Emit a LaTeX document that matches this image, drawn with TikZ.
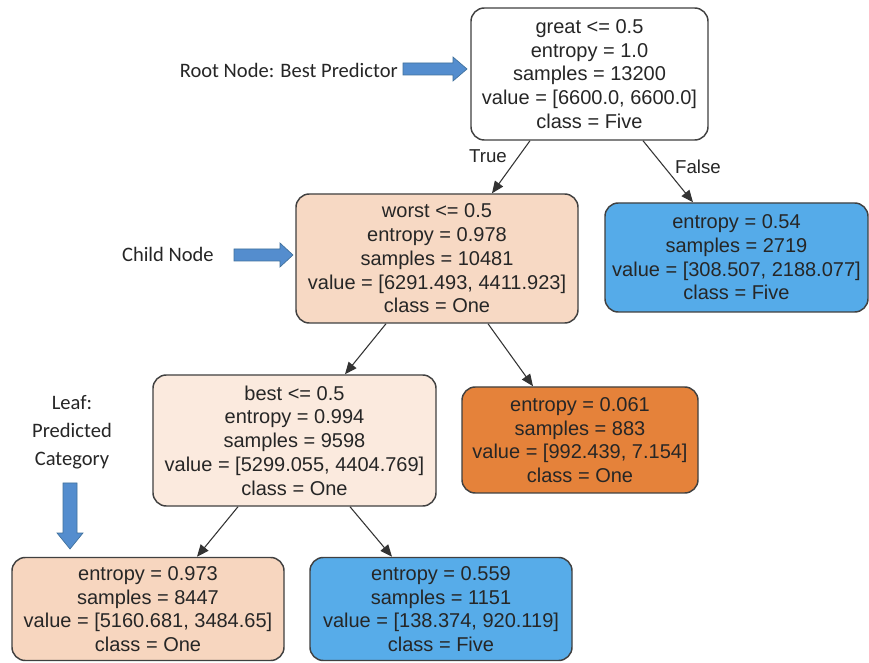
\documentclass[tikz,border=0pt]{standalone}
\usepackage{fontspec}
\newfontfamily\treefont{Liberation Sans}
\newfontfamily\notefont{Carlito}
\usetikzlibrary{arrows.meta, positioning, calc}
\newlength\px
\setlength\px{0.75pt}
\definecolor{peachA}{RGB}{247,217,196}
\definecolor{peachB}{RGB}{251,234,222}
\definecolor{peachC}{RGB}{247,214,191}
\definecolor{orangeA}{RGB}{229,130,58}
\definecolor{blueA}{RGB}{85,171,233}
\definecolor{blueB}{RGB}{87,172,233}
\definecolor{pointer}{RGB}{84,141,206}
\definecolor{pointerline}{RGB}{65,113,156}
\tikzset{%
	tnode/.style={draw=black!75, line width=1.1pt, rounded corners=10pt, align=center,
		inner sep=0pt, text=black!85, font=\treefont\fontsize{15}{17.8}\selectfont},
	sz/.style 2 args={minimum width=#1\px, minimum height=#2\px},
	edge/.style={-{Triangle[length=9pt, width=7.5pt]}, line width=0.8pt, black!80},
	branch/.style={text=black!85, font=\treefont\fontsize{14}{16}\selectfont},
	note/.style={text=black!85, align=center, inner sep=0pt,
		font=\notefont\fontsize{15.4}{21}\selectfont},
	pointer/.style={fill=pointer, draw=pointerline, line width=0.5pt}
}
\begin{document}
\begin{tikzpicture}[x=0.75pt, y=-0.75pt]
	\useasboundingbox [fill=white] (0,0) rectangle (869,663);

	% tree
	\node [tnode, sz={237}{132}, fill=white] (root) at (589.5,74)
		{great <= 0.5\\entropy = 1.0\\samples = 13200\\value = [6600.0, 6600.0]\\class = Five};
	\node [tnode, sz={282}{129}, fill=peachA] (worst) at (437,258.5)
		{worst <= 0.5\\entropy = 0.978\\samples = 10481\\value = [6291.493, 4411.923]\\class = One};
	\node [tnode, sz={263}{109}, fill=blueA] (five1) at (736.5,257.5)
		{entropy = 0.54\\samples = 2719\\value = [308.507, 2188.077]\\class = Five};
	\node [tnode, sz={283}{131}, fill=peachB] (best) at (294.5,440.5)
		{best <= 0.5\\entropy = 0.994\\samples = 9598\\value = [5299.055, 4404.769]\\class = One};
	\node [tnode, sz={236}{106}, fill=orangeA] (one1) at (580,440)
		{entropy = 0.061\\samples = 883\\value = [992.439, 7.154]\\class = One};
	\node [tnode, sz={272}{103}, fill=peachC] (one2) at (148,609)
		{entropy = 0.973\\samples = 8447\\value = [5160.681, 3484.65]\\class = One};
	\node [tnode, sz={262}{103}, fill=blueB] (five2) at (441,609)
		{entropy = 0.559\\samples = 1151\\value = [138.374, 920.119]\\class = Five};

	\draw [edge] ($(root.south)+(-59.5,0)$) -- ($(worst.north)+(55,0)$);
	\draw [edge] ($(root.south)+(53.5,0)$) -- ($(five1.north)+(-43.5,0)$);
	\draw [edge] ($(worst.south)+(-51,0)$) -- ($(best.north)+(50.5,0)$);
	\draw [edge] ($(worst.south)+(51,0)$) -- ($(one1.north)+(-47,0)$);
	\draw [edge] ($(best.south)+(-56.5,0)$) -- ($(one2.north)+(49,0)$);
	\draw [edge] ($(best.south)+(55.5,0)$) -- ($(five2.north)+(-49,0)$);

	\node [branch] (true) at (488,156) {True};
	\node [branch] (false) at (698,167) {False};

	% notes
	\node [note, anchor=east] (rootnote) at (398,70) {Root Node: Best Predictor};
	\node [note, anchor=east] (childnote) at (214,254) {Child Node};
	\node [note] (leafnote) at (72,432) {Leaf:\\Predicted\\Category};

	\draw [pointer] (403,63) -- (453,63) -- (453,57) -- (467,69) -- (453,81)
		-- (453,75) -- (403,75) -- cycle;
	\draw [pointer] (234,249) -- (280,249) -- (280,243) -- (293,255) -- (280,267)
		-- (280,261) -- (234,261) -- cycle;
	\draw [pointer] (63,483) -- (63,533) -- (57,533) -- (70,549) -- (83,533)
		-- (77,533) -- (77,483) -- cycle;
\end{tikzpicture}
\end{document}
